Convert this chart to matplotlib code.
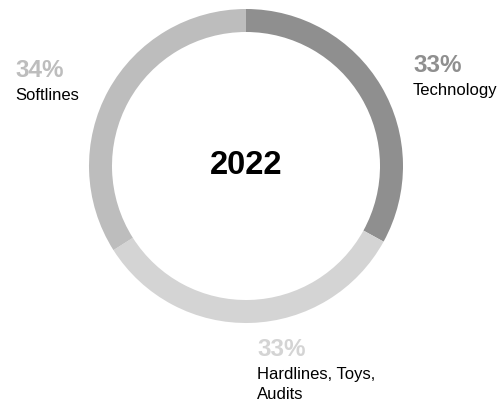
import matplotlib
matplotlib.use("Agg")
import matplotlib.pyplot as plt

plt.rcParams['font.family'] = ['Liberation Sans', 'DejaVu Sans']

categories = ["Technology", "Hardlines, Toys,\nAudits", "Softlines"]
shares = [33, 33, 34]
colors = ["#8f8f8f", "#d4d4d4", "#bdbdbd"]
year_label = "2022"

W, H = 503, 403
fig = plt.figure(figsize=(W / 100, H / 100), dpi=100)
ax = fig.add_axes([0, 0, 1, 1])
ax.set_xlim(0, W)
ax.set_ylim(0, H)
ax.axis("off")

cx, cy = 246, H - 166
r_out = 157
ring = 23

ax.pie(shares, colors=colors, startangle=90, counterclock=False,
       center=(cx, cy), radius=r_out,
       wedgeprops=dict(width=ring, linewidth=0))
ax.set_xlim(0, W)
ax.set_ylim(0, H)
ax.set_aspect("equal", adjustable="box")

ax.text(cx, cy, year_label, ha="center", va="center", fontsize=23.5,
        fontweight="bold", color="black")

# label anchors (left edge, baseline of percent line)
label_pos = [(413, H - 72), (257, H - 356), (15, H - 77)]
for (x, y), cat, val, col in zip(label_pos, categories, shares, colors):
    ax.text(x, y, f"{val}%", ha="left", va="baseline", fontsize=17.5,
            fontweight="bold", color=col)
    ax.text(x, y - 11, cat, ha="left", va="top", fontsize=12,
            color="black", linespacing=1.4)

fig.savefig("out.png", dpi=100)
